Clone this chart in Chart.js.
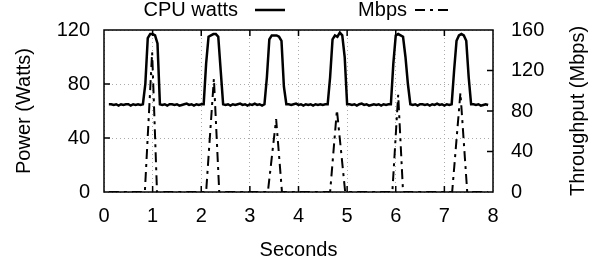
<!DOCTYPE html>
<html><head><meta charset="utf-8">
<script src="https://cdn.jsdelivr.net/npm/chart.js@4/dist/chart.umd.min.js"></script>
<style>html,body{margin:0;padding:0;background:#fff}#wrap{width:600px;height:264px}</style>
</head><body><div id="wrap"><canvas id="c" width="600" height="264"></canvas></div>
<script>
const seconds = [
 0.10,0.15,0.20,0.25,0.30,0.35,0.40,0.45,0.50,0.55,0.60,0.65,0.70,0.75,0.80,
 0.85,0.90,0.95,1.00,1.05,1.10,1.15,
 1.20,1.25,1.30,1.35,1.40,1.45,1.50,1.55,1.60,1.65,1.70,1.75,1.80,1.85,1.90,1.95,2.00,2.05,
 2.10,2.15,2.20,2.25,2.30,2.35,2.40,2.45,
 2.50,2.55,2.60,2.65,2.70,2.75,2.80,2.85,2.90,2.95,3.00,3.05,3.10,3.15,3.20,3.25,3.30,
 3.35,3.40,3.45,3.50,3.55,3.60,3.65,3.70,3.75,
 3.80,3.85,3.90,3.95,4.00,4.05,4.10,4.15,4.20,4.25,4.30,4.35,4.40,4.45,4.50,4.55,4.60,
 4.65,4.70,4.75,4.80,4.85,4.90,4.95,5.00,
 5.05,5.10,5.15,5.20,5.25,5.30,5.35,5.40,5.45,5.50,5.55,5.60,5.65,5.70,5.75,5.80,5.85,5.90,
 5.95,6.00,6.05,6.10,6.15,6.20,6.25,6.30,
 6.35,6.40,6.45,6.50,6.55,6.60,6.65,6.70,6.75,6.80,6.85,6.90,6.95,7.00,7.05,7.10,7.15,
 7.20,7.25,7.30,7.35,7.40,7.45,7.50,7.55,
 7.60,7.65,7.70,7.75,7.80,7.85,7.90
];
const cpuWatts = [
 65,65,64.5,65,64,65,64.5,65,65,64,65,64.5,65,64.5,65,
 80,114,117,117,116,110,65,
 64.5,65,64,65,65,64.5,65,64,64.5,65,65.5,64.5,65,64,65,64.5,65,65,
 95,115,116,117,117,115,90,65,
 64.5,65,64,65,64.5,65,65.5,64.5,65,64,65,64.5,65.5,64.5,65,64,65,
 85,113,116,116,116,115,112,78,65,
 65,64.5,65,65.5,64.5,65,64,65,64.5,65,64,65,64.5,65,64.5,65,65,
 85,113,116,115,118,116,100,65,
 65,64.5,65,64,65,65.5,64.5,65,64,64.5,65,64.5,65,64,65,64.5,65,65,
 95,116,117,116,115,100,80,65,
 64.5,65,64,65,65,64.5,65,64,65,64.5,65.5,64.5,65,64,65,64.5,65,
 90,112,116,117,116,112,85,65,
 65,64.5,65,64,64.5,65,64.5
];
const mbpsSeconds = [0.10,0.84,0.99,1.09,2.10,2.26,2.37,3.37,3.54,3.66,4.65,4.79,4.96,5.93,6.05,6.15,7.16,7.33,7.47,7.90];
const mbps        = [0,   0,   138, 0,   0,   112, 0,   0,   72,  0,   0,   81,  0,   0,   96,  0,   0,   98,  0,   0];
const xTicks = [0,1,2,3,4,5,6,7,8];
const powerTicks = [0,40,80,120];
const mbpsTicks = [0,40,80,120,160];
const rightTitle = 'Throughput (Mbps)';

const FONT = '"Liberation Sans", Helvetica, Arial, sans-serif';
const DASHDOT = [10,5,3,5];

const frame = {
  id: 'frame',
  afterDraw(chart) {
    const {ctx, chartArea: a, scales} = chart;
    ctx.save();
    ctx.strokeStyle = '#000';
    ctx.lineWidth = 1.5;
    ctx.setLineDash([]);
    ctx.strokeRect(a.left, a.top, a.right - a.left, a.bottom - a.top);
    const T = 6;
    ctx.beginPath();
    xTicks.slice(1, -1).forEach(v => {
      const x = scales.x.getPixelForValue(v);
      ctx.moveTo(x, a.bottom); ctx.lineTo(x, a.bottom - T);
      ctx.moveTo(x, a.top); ctx.lineTo(x, a.top + T);
    });
    powerTicks.slice(1, -1).forEach(v => {
      const y = scales.y.getPixelForValue(v);
      ctx.moveTo(a.left, y); ctx.lineTo(a.left + T, y);
    });
    mbpsTicks.slice(1, -1).forEach(v => {
      const y = scales.y2.getPixelForValue(v);
      ctx.moveTo(a.right, y); ctx.lineTo(a.right - T, y);
    });
    ctx.stroke();
    ctx.font = '20px ' + FONT;
    ctx.fillStyle = '#000';
    // right axis title, reading bottom to top
    ctx.save();
    ctx.translate(578, (a.top + a.bottom) / 2);
    ctx.rotate(-Math.PI / 2);
    ctx.textAlign = 'center';
    ctx.textBaseline = 'middle';
    ctx.fillText(rightTitle, 0, 0);
    ctx.restore();
    // legend
    ctx.textAlign = 'right';
    ctx.textBaseline = 'middle';
    const ly = 10;
    ctx.fillText(chart.data.datasets[0].label, 238, ly);
    ctx.fillText(chart.data.datasets[1].label, 407, ly);
    ctx.lineWidth = 2.5;
    ctx.beginPath(); ctx.moveTo(255, ly); ctx.lineTo(285, ly); ctx.stroke();
    ctx.lineWidth = 2;
    ctx.setLineDash(DASHDOT);
    ctx.beginPath(); ctx.moveTo(415, ly); ctx.lineTo(453, ly); ctx.stroke();
    ctx.restore();
  }
};

new Chart(document.getElementById('c'), {
  type: 'line',
  data: {
    datasets: [
      {
        label: 'CPU watts',
        data: seconds.map((s, i) => ({x: s, y: cpuWatts[i]})),
        yAxisID: 'y',
        borderColor: '#000',
        borderWidth: 2.5,
        pointRadius: 0,
        tension: 0,
        fill: false
      },
      {
        label: 'Mbps',
        data: mbpsSeconds.map((s, i) => ({x: s, y: mbps[i]})),
        yAxisID: 'y2',
        borderColor: '#000',
        borderWidth: 2,
        borderDash: DASHDOT,
        pointRadius: 0,
        tension: 0,
        fill: false
      }
    ]
  },
  options: {
    responsive: false,
    animation: false,
    devicePixelRatio: 1,
    layout: {padding: {top: 30, left: 0, right: 0, bottom: 0}},
    plugins: {legend: {display: false}, tooltip: {enabled: false}},
    scales: {
      x: {
        type: 'linear', min: 0, max: 8,
        afterFit(s) { s.height = 72; },
        afterBuildTicks(s) { s.ticks = xTicks.map(v => ({value: v})); },
        ticks: {color: '#000', font: {size: 20, family: FONT}, padding: 12, maxRotation: 0, autoSkip: false},
        grid: {drawTicks: false, color: '#aaa', lineWidth: 1},
        border: {display: false, dash: [1, 3]},
        title: {display: true, text: 'Seconds', color: '#000', font: {size: 20, family: FONT}, padding: {top: 4, bottom: 2}}
      },
      y: {
        position: 'left', min: 0, max: 120,
        afterFit(s) { s.width = 104; },
        afterBuildTicks(s) { s.ticks = powerTicks.map(v => ({value: v})); },
        ticks: {color: '#000', font: {size: 20, family: FONT}, padding: 14},
        grid: {drawTicks: false, color: '#aaa', lineWidth: 1},
        border: {display: false, dash: [1, 3]},
        title: {display: true, text: 'Power (Watts)', color: '#000', font: {size: 20, family: FONT}, padding: {top: 12, bottom: 2}}
      },
      y2: {
        position: 'right', min: 0, max: 160,
        afterFit(s) { s.width = 107; },
        afterBuildTicks(s) { s.ticks = mbpsTicks.map(v => ({value: v})); },
        ticks: {color: '#000', font: {size: 20, family: FONT}, padding: 18},
        grid: {drawTicks: false, drawOnChartArea: false},
        border: {display: false}
      }
    }
  },
  plugins: [frame]
});
</script>
</body></html>
